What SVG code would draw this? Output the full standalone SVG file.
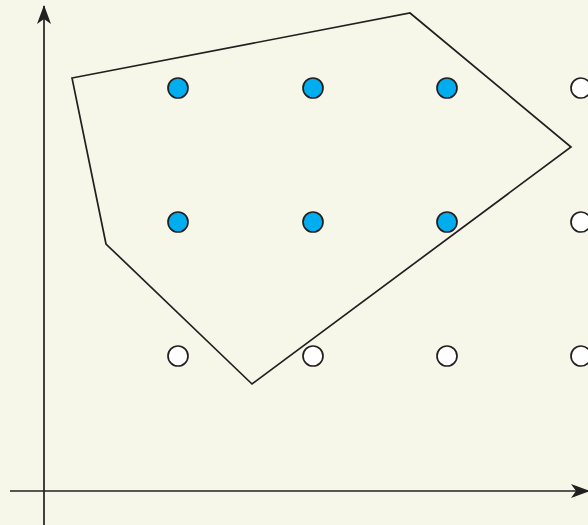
<svg xmlns="http://www.w3.org/2000/svg" width="588" height="525" viewBox="0 0 588 525">
  <style>
    .axis { stroke: #231f20; stroke-width: 1.7; fill: none; }
    .poly { stroke: #231f20; stroke-width: 1.7; fill: none; stroke-linejoin: miter; }
    .pt { stroke: #231f20; stroke-width: 1.7; }
    .in { fill: #00aeef; }
    .out { fill: #ffffff; }
  </style>
  <defs>
    <marker id="arr" viewBox="0 0 19 14" refX="18" refY="7" markerWidth="19" markerHeight="14" markerUnits="userSpaceOnUse" orient="auto">
      <path d="M0,0 L19,7 L0,14 L5,7 Z" fill="#231f20"/>
    </marker>
  </defs>
  <rect width="588" height="525" fill="#f7f7e9"/>
  <g id="connectors">
    <line class="axis" x1="44" y1="525" x2="44" y2="6" marker-end="url(#arr)"/>
    <line class="axis" x1="10" y1="491" x2="589" y2="491" marker-end="url(#arr)"/>
    <polygon id="hull" class="poly" points="72,78 410,13 571,147 252,384 106,244"/>
  </g>
  <g id="p1"><circle class="pt in" cx="178" cy="88" r="10"/></g>
  <g id="p2"><circle class="pt in" cx="313" cy="88" r="10"/></g>
  <g id="p3"><circle class="pt in" cx="447" cy="88" r="10"/></g>
  <g id="p4"><circle class="pt out" cx="581" cy="88" r="10"/></g>
  <g id="p5"><circle class="pt in" cx="178" cy="222" r="10"/></g>
  <g id="p6"><circle class="pt in" cx="313" cy="222" r="10"/></g>
  <g id="p7"><circle class="pt in" cx="447" cy="222" r="10"/></g>
  <g id="p8"><circle class="pt out" cx="581" cy="222" r="10"/></g>
  <g id="p9"><circle class="pt out" cx="178" cy="356" r="10"/></g>
  <g id="p10"><circle class="pt out" cx="313" cy="356" r="10"/></g>
  <g id="p11"><circle class="pt out" cx="447" cy="356" r="10"/></g>
  <g id="p12"><circle class="pt out" cx="581" cy="356" r="10"/></g>
</svg>
